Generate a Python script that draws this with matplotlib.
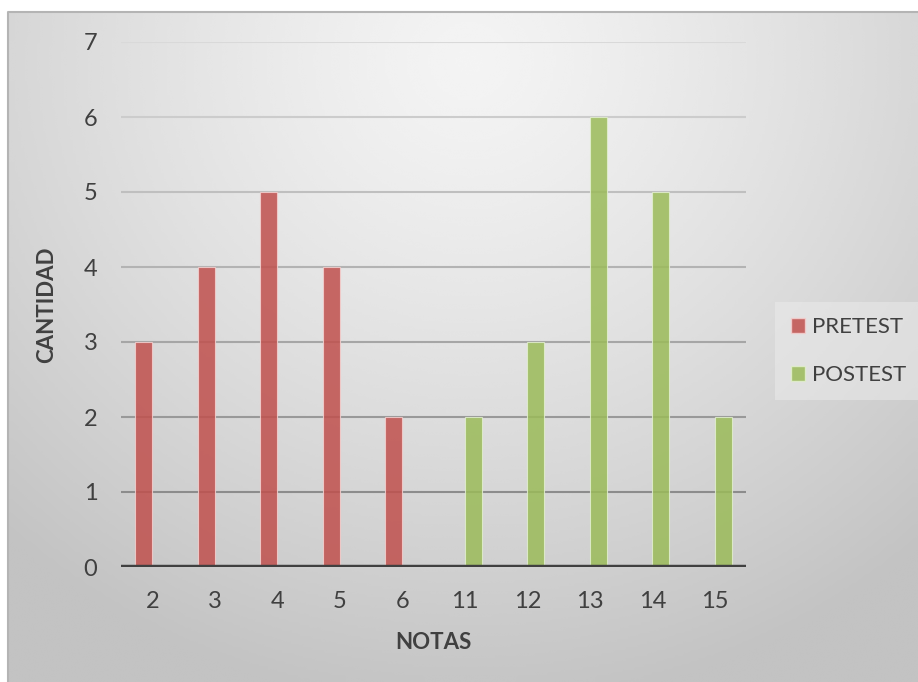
import matplotlib.pyplot as plt
import matplotlib.patches as mpatches
import numpy as np

notas = ['2', '3', '4', '5', '6', '11', '12', '13', '14', '15']
pretest = [3, 4, 5, 4, 2, 0, 0, 0, 0, 0]
postest = [0, 0, 0, 0, 0, 2, 3, 6, 5, 2]

red = '#C0504D'
green = '#9BBB59'

plt.rcParams['font.family'] = ['Lato', 'DejaVu Sans']

W, H = 918, 682
fig = plt.figure(figsize=(W / 100, H / 100), dpi=100)
fig.patch.set_facecolor('white')

# radial grey gradient behind the whole chart
bg = fig.add_axes([8 / W, 0, 1 - 8 / W, 1 - 12 / H])
bg.set_axis_off()
xx, yy = np.meshgrid(np.linspace(8, W, 300), np.linspace(12, H, 240))
r = np.hypot((xx - 470) / 1.0, (yy - 60) / 0.95) / 680
r = np.clip(r, 0, 1)
shade = 0.955 - 0.19 * r ** 1.3
bg.imshow(shade, cmap='gray', vmin=0, vmax=1, aspect='auto',
          extent=[0, 1, 0, 1], origin='upper', interpolation='bicubic')
bg.set_xlim(0, 1)
bg.set_ylim(0, 1)
bg.plot([0, 0, 1], [0, 1, 1], color='#b4b4b4', lw=1.5, clip_on=False)

ax = fig.add_axes([121 / W, (H - 567) / H, (746 - 121) / W, (567 - 42) / H])
ax.patch.set_alpha(0)

x = np.arange(len(notas))
w = 0.272

# gridlines get darker towards the bottom, as on the gradient
for v in range(1, 8):
    g = 0.55 + (0.85 - 0.55) * (v - 1) / 6
    ax.axhline(v, color=(g, g, g), lw=1.5, zorder=1)

ax.bar(x - w / 2, pretest, w, color=red, alpha=0.85,
       edgecolor='#f4d0cf', linewidth=0.8, zorder=2, label='PRETEST')
ax.bar(x + w / 2, postest, w, color=green, alpha=0.85,
       edgecolor='#e2efcf', linewidth=0.8, zorder=2, label='POSTEST')
ax.axhline(0, color='#404040', lw=3.2, zorder=3)

ax.set_xlim(-0.5, len(notas) - 0.5)
ax.set_ylim(0, 7)
ax.set_xticks(x)
ax.set_xticklabels(notas)
ax.set_yticks(range(0, 8))
ax.tick_params(length=0, labelsize=17, colors='#404040')
ax.tick_params(axis='x', pad=17)
ax.tick_params(axis='y', pad=17)
for s in ax.spines.values():
    s.set_visible(False)

ax.set_xlabel('NOTAS', fontsize=16, fontweight='bold', color='#404040', labelpad=15)
ax.set_ylabel('CANTIDAD', fontsize=16, fontweight='bold', color='#404040', labelpad=19)

handles = [mpatches.Patch(facecolor=red, alpha=0.85, edgecolor='#f4d0cf'),
           mpatches.Patch(facecolor=green, alpha=0.85, edgecolor='#e2efcf')]
leg = fig.legend(handles, ['PRETEST', 'POSTEST'], loc='center left',
                 bbox_to_anchor=(775 / W, (H - 351) / H), fontsize=16,
                 handlelength=0.65, handleheight=0.65, handletextpad=0.3,
                 labelspacing=1.25, frameon=True, fancybox=False,
                 borderpad=0.7, borderaxespad=0, labelcolor='#404040')
leg.get_frame().set_facecolor('#ececec')
leg.get_frame().set_alpha(0.5)
leg.get_frame().set_edgecolor('none')

fig.savefig('out.png', dpi=100)
